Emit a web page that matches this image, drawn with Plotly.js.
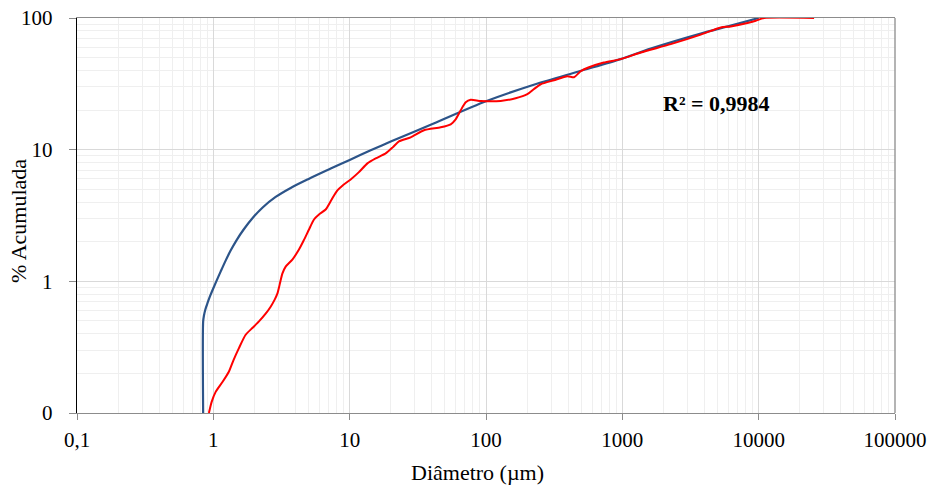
<!DOCTYPE html>
<html>
<head>
<meta charset="utf-8">
<script src="https://cdn.plot.ly/plotly-3.0.1.min.js"></script>
<style>
  html, body { margin: 0; padding: 0; background: #ffffff; }
  #chart { width: 932px; height: 487px; }
</style>
</head>
<body>
<div id="chart"></div>
<script>
// Fitted curve (blue)
const blueX = [0.842, 0.842, 0.853, 0.875, 0.908, 0.949, 1.0, 1.057, 1.131, 1.231, 1.339, 1.482, 1.669, 1.942, 2.30, 2.865, 3.69, 5.0, 7.26, 10, 14.26, 20.0, 41.3, 100, 224, 471, 973, 1616, 3760, 6243, 10000];
const blueY = [0.1, 0.494, 0.548, 0.614, 0.688, 0.778, 0.886, 1.012, 1.185, 1.437, 1.713, 2.058, 2.475, 3.027, 3.638, 4.373, 5.122, 5.995, 7.18, 8.364, 9.88, 11.52, 15.82, 23.32, 31.13, 39.09, 48.68, 58.5, 76.1, 87.5, 100];

// Measured curve (red)
const redX = [0.928, 0.972, 1.040, 1.170, 1.302, 1.409, 1.541, 1.726, 1.942, 2.161, 2.419, 2.633, 2.818, 2.948, 3.065, 3.208, 3.393, 3.798, 4.246, 4.598, 5.029, 5.472, 5.955, 6.668, 7.379, 8.124, 8.884, 10.17, 11.64, 13.49, 15.52, 18.37, 20.68, 23.0, 28.03, 35.1, 46.5, 55.1, 59.9, 65.2, 71.0, 77.2, 91.4, 128, 165, 201, 224, 252, 315, 396, 442, 495, 557, 731, 973, 1365, 2265, 3760, 5272, 6243, 8277, 9522, 10955, 25500];
const redY = [0.1, 0.1215, 0.1447, 0.1725, 0.2065, 0.2535, 0.3113, 0.393, 0.444, 0.496, 0.568, 0.642, 0.726, 0.806, 0.944, 1.144, 1.294, 1.463, 1.743, 2.040, 2.475, 2.948, 3.218, 3.513, 4.186, 4.90, 5.35, 5.94, 6.72, 7.87, 8.59, 9.37, 10.41, 11.57, 12.41, 14.03, 14.78, 15.58, 17.01, 19.91, 22.9, 23.93, 23.44, 23.44, 24.57, 26.36, 28.77, 31.4, 33.69, 36.13, 35.5, 39.4, 41.9, 45.9, 48.7, 54.7, 63.3, 74.8, 84.8, 86.3, 91.5, 95.2, 100, 100];

const xTickVals = [0.1, 1, 10, 100, 1000, 10000, 100000];
const xTickText = ['0,1', '1', '10', '100', '1000', '10000', '100000'];
const yTickVals = [0.1, 1, 10, 100];
const yTickText = ['0', '1', '10', '100'];
const xTitle = 'Diâmetro (µm)';
const yTitle = '% Acumulada';
const annotationText = 'R² = 0,9984';

// minor grid positions (2..9 of each decade)
function minorVals(lo, hi) {
  const out = [];
  for (let d = lo; d < hi; d++) {
    for (let k = 2; k <= 9; k++) out.push(k * Math.pow(10, d));
  }
  return out;
}

const font = 'Liberation Serif, Times New Roman, serif';

const traces = [
  { x: blueX, y: blueY, type: 'scatter', mode: 'lines',
    line: { color: '#2c5489', width: 2.2, shape: 'spline', smoothing: 0.8 }, showlegend: false, hoverinfo: 'skip' },
  { x: redX, y: redY, type: 'scatter', mode: 'lines',
    line: { color: '#ff0000', width: 2, shape: 'spline', smoothing: 0.6 }, showlegend: false, hoverinfo: 'skip' }
];

const layout = {
  width: 932, height: 487,
  margin: { l: 77, r: 37, t: 18, b: 74 },
  paper_bgcolor: '#ffffff', plot_bgcolor: '#ffffff',
  font: { family: font, size: 21, color: '#000000' },
  showlegend: false,
  xaxis: {
    type: 'log', range: [-1, 5],
    tickmode: 'array', tickvals: xTickVals, ticktext: xTickText,
    ticks: 'outside', ticklen: 6, tickcolor: '#8c8c8c', tickwidth: 1,
    ticklabelstandoff: 1,
    showgrid: true, gridcolor: '#d9d9d9', gridwidth: 1,
    minor: { tickmode: 'array', tickvals: minorVals(-1, 5), showgrid: true, gridcolor: '#efefef', gridwidth: 1, ticks: '' },
    showline: true, linecolor: '#8c8c8c', linewidth: 1.3, mirror: true,
    zeroline: false,
    tickfont: { family: font, size: 21, color: '#000' }
  },
  yaxis: {
    type: 'log', range: [-1, 2],
    tickmode: 'array', tickvals: yTickVals, ticktext: yTickText,
    ticks: 'outside', ticklen: 7, tickcolor: '#8c8c8c', tickwidth: 1,
    ticklabelstandoff: 12,
    showgrid: true, gridcolor: '#d9d9d9', gridwidth: 1,
    minor: { tickmode: 'array', tickvals: minorVals(-1, 2), showgrid: true, gridcolor: '#efefef', gridwidth: 1, ticks: '' },
    showline: true, linecolor: '#000000', linewidth: 1.3, mirror: false,
    zeroline: false,
    tickfont: { family: font, size: 21, color: '#000' }
  },
  shapes: [
    { type: 'line', xref: 'paper', yref: 'paper', x0: 1, x1: 1, y0: 0, y1: 1,
      line: { color: '#8c8c8c', width: 1.3 } }
  ],
  annotations: [
    { text: '<b>' + annotationText + '</b>', xref: 'paper', yref: 'paper',
      x: (716 - 77) / 818, y: (412.7 - 104) / 394.2, xanchor: 'center', yanchor: 'middle',
      showarrow: false, font: { family: font, size: 22, color: '#000' } },
    { text: xTitle, xref: 'paper', yref: 'paper',
      x: (477 - 77) / 818, y: (412.7 - 472) / 394.2, xanchor: 'center', yanchor: 'middle',
      showarrow: false, font: { family: font, size: 22, color: '#000' } },
    { text: yTitle, xref: 'paper', yref: 'paper', textangle: -90,
      x: (19 - 77) / 818, y: (412.7 - 221) / 394.2, xanchor: 'center', yanchor: 'middle',
      showarrow: false, font: { family: font, size: 22, color: '#000' } }
  ]
};

Plotly.newPlot('chart', traces, layout, { staticPlot: true, displayModeBar: false });
</script>
</body>
</html>
